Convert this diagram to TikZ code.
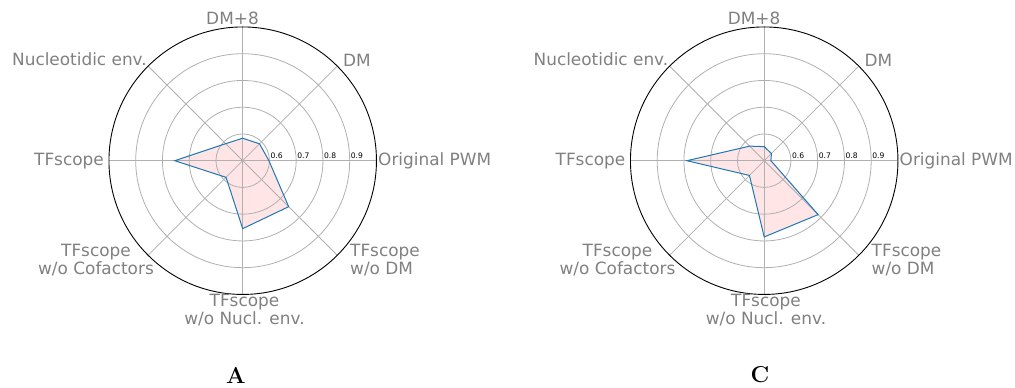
\documentclass[tikz,border=0pt]{standalone}
\usepackage{fontspec}
\newfontfamily\dejavu{DejaVu Sans}
\definecolor{gridgray}{RGB}{176,176,176}
\definecolor{labgray}{RGB}{128,128,128}
\definecolor{mplblue}{RGB}{31,119,180}

% one radar chart: #1 name prefix, #2 x of centre, #3 eight scores (0.5 .. 1.0),
% counter-clockwise starting at "Original PWM"
\newcommand\radarchart[3]{%
  \begin{scope}[shift={(#2,227.3)}]
    \foreach \v [count=\i from 0] in {#3}
      \coordinate (#1-p\i) at ({\i*45}:{(\v-0.5)*267.5});
    \fill[scorefill] (#1-p0) -- (#1-p1) -- (#1-p2) -- (#1-p3) -- (#1-p4)
      -- (#1-p5) -- (#1-p6) -- (#1-p7) -- cycle;
    \foreach \k in {1,...,4}
      \draw[gridline] (0,0) circle ({\k*26.75});
    \foreach \a in {0,45,...,315}
      \draw[gridline] (0,0) -- (\a:133.75);
    \draw[rim] (0,0) circle (133.75);
    \draw[scoreline] (#1-p0) -- (#1-p1) -- (#1-p2) -- (#1-p3) -- (#1-p4)
      -- (#1-p5) -- (#1-p6) -- (#1-p7) -- cycle;
    \foreach \k/\t in {1/0.6,2/0.7,3/0.8,4/0.9}
      \node[ticklab] (#1-t\k) at ({\k*26.75+1},1.7) {\t};
    \node[axlab, anchor=base] (#1-dm8) at (-10.2,135.7) {DM+8};
    \node[axlab, anchor=base west] (#1-dm) at (100.3,93.7) {DM};
    \node[axlab, anchor=base west] (#1-pwm) at (135.3,-5.3) {Original PWM};
    \node[axlab, anchor=north west, align=left] (#1-nodm) at (107.3,-82.8)
      {TFscope\\w/o DM};
    \node[axlab, anchor=north, align=center] (#1-nonucl) at (1.8,-132.8)
      {TFscope\\w/o Nucl. env.};
    \node[axlab, anchor=north, align=center] (#1-nocof) at (-146.7,-82.8)
      {TFscope\\w/o Cofactors};
    \node[axlab, anchor=base east] (#1-tfs) at (-138.7,-5.3) {TFscope};
    \node[axlab, anchor=base east] (#1-nucl) at (-95.7,94.7) {Nucleotidic env.};
  \end{scope}%
}

\begin{document}
\begin{tikzpicture}[x=1pt,y=1pt,
  gridline/.style={draw=gridgray, line width=0.8pt},
  rim/.style={draw=black, line width=0.9pt},
  scorefill/.style={fill=red, fill opacity=0.1},
  scoreline/.style={draw=mplblue, line width=1pt, line join=miter},
  ticklab/.style={anchor=base west, inner sep=0pt,
    font=\dejavu\fontsize{7.6}{9}\selectfont},
  axlab/.style={inner sep=0pt, text=labgray,
    font=\dejavu\fontsize{16.9}{18.5}\selectfont},
  panel/.style={inner sep=0pt, font=\fontsize{23}{26}\selectfont\bfseries}]
  \useasboundingbox (0,0) rectangle (1015,388);

  \radarchart{a}{242.7}{0.598,0.589,0.584,0.590,0.754,0.588,0.754,0.743}
  \radarchart{c}{764.2}{0.525,0.538,0.5525,0.577,0.789,0.578,0.785,0.785}

  \node[panel] (pa) at (236,13) {A};
  \node[panel] (pc) at (760,13) {C};
\end{tikzpicture}
\end{document}
